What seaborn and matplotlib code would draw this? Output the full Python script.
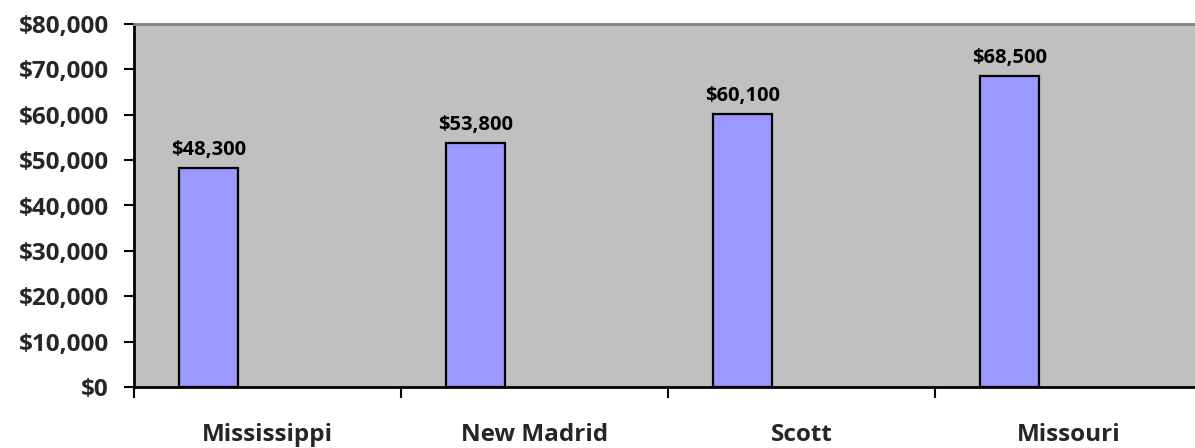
import numpy as np
import pandas as pd
import matplotlib
matplotlib.use("Agg")
import matplotlib.pyplot as plt
import seaborn as sns
from matplotlib.ticker import FixedLocator, FuncFormatter

# Median household income by area
areas = ["Mississippi", "New Madrid", "Scott", "Missouri"]
incomes = [48300, 53800, 60100, 68500]
series_levels = ["Income", "_b", "_c"]  # three-slot clusters, only the first holds data

y_ticks = list(range(0, 80001, 10000))

sns.set_theme(style="white")
plt.rcParams["font.family"] = ["Open Sans", "DejaVu Sans"]
plt.rcParams["font.weight"] = "bold"

df = pd.DataFrame({"area": areas, "income": incomes, "series": series_levels[0]})

fig = plt.figure(figsize=(11.95, 4.48), dpi=100)
ax = fig.add_axes([134 / 1195, 1 - 387 / 448, (1202 - 134) / 1195, (387 - 24) / 448])
ax.set_facecolor("#C0C0C0")

sns.barplot(
    data=df, x="area", y="income", hue="series", hue_order=series_levels,
    order=areas, width=0.663, dodge=True, palette=["#9999FF"] * 3, saturation=1,
    edgecolor="black", linewidth=1.6, legend=False, errorbar=None, ax=ax,
)

for cont in ax.containers:
    if len(cont) and any(np.isfinite(p.get_height()) and p.get_height() > 0 for p in cont):
        ax.bar_label(cont, labels=[f"${v:,.0f}" for v in incomes], padding=6,
                     fontsize=14.5, fontweight="bold", color="black")

ax.set_xlim(-0.5, len(areas) - 0.5)
ax.set_ylim(0, 80000)
ax.set_yticks(y_ticks)
ax.yaxis.set_major_formatter(FuncFormatter(lambda v, _: f"${v:,.0f}"))
ax.tick_params(axis="y", direction="out", length=7, width=1.5, color="black",
               labelsize=17.5, pad=11, left=True)

# tick marks on slot boundaries, labels centred in each slot
ax.xaxis.set_major_locator(FixedLocator(np.arange(-0.5, len(areas), 1.0)))
ax.xaxis.set_major_formatter(FuncFormatter(lambda v, _: ""))
ax.set_xticks(np.arange(len(areas)), labels=areas, minor=True)
ax.tick_params(axis="x", which="major", direction="out", length=8, width=1.5,
               color="black", bottom=True)
ax.tick_params(axis="x", which="minor", length=0, pad=26, labelsize=17.5)

ax.set_xlabel("")
ax.set_ylabel("")

for side in ["left", "bottom"]:
    ax.spines[side].set_color("black")
    ax.spines[side].set_linewidth(2)
ax.spines["top"].set_color("#808080")
ax.spines["top"].set_linewidth(2)
ax.spines["right"].set_visible(False)

fig.savefig("out.png", dpi=100, facecolor="white")
